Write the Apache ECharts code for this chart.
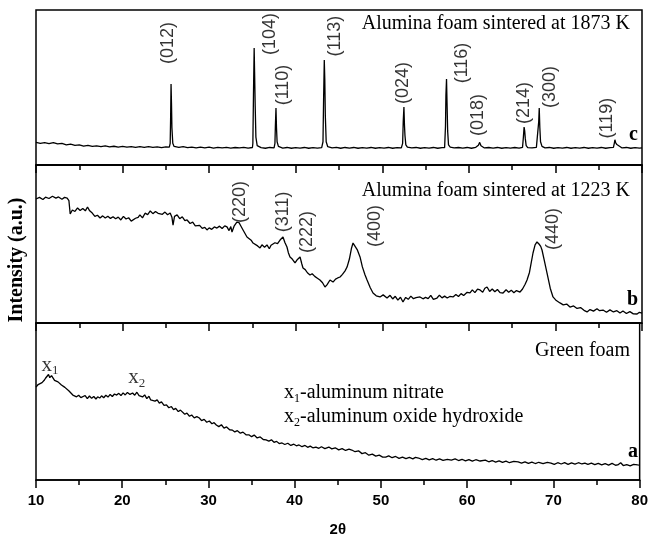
<!DOCTYPE html>
<html>
<head>
<meta charset="utf-8">
<title>XRD alumina foam</title>
<script src="https://cdn.jsdelivr.net/npm/echarts@6/dist/echarts.min.js"></script>
<style>
  html, body { margin: 0; padding: 0; background: #fff; }
  #chart { width: 651px; height: 540px; }
</style>
</head>
<body>
<div id="chart"></div>
<script>
// 2θ range and ticks
const xMin = 10
const xMax = 80
const xStep = 10

// (c) alumina foam sintered at 1873 K  -> [2θ, intensity]
const curveC = [
  [10,14.6],[10.5,14.0],[11,14.4],[11.5,13.8],[12,14.5],[12.5,13.6],[13,13.9],[13.5,13.0],[14,13.4],[14.5,12.7],
  [15,13.0],[15.5,12.2],[16,12.6],[16.5,12.0],[17,12.4],[17.5,11.8],[18,12.3],[18.5,11.7],[19,12.1],[19.5,11.6],
  [20,12.0],[20.5,11.5],[21,11.9],[21.5,11.4],[22,11.9],[22.5,11.3],[23,11.8],[23.5,11.4],[24,11.7],[24.5,11.2],
  [25,11.7],[25.4,11.5],[25.5,14],[25.55,30],[25.6,52.3],[25.65,40],[25.7,24],[25.8,14],[25.95,12],[26.5,11.4],
  [27,11.8],[27.5,11.2],[28,11.6],[28.5,11.1],[29,11.5],[29.5,11.0],[30,11.5],[30.5,10.9],[31,11.4],[31.5,11.0],
  [32,11.4],[32.5,10.9],[33,11.3],[33.5,11.0],[34,11.4],[34.5,10.9],[35,11.3],[35.05,14],[35.12,45],[35.2,75.5],
  [35.25,60],[35.32,38],[35.4,18],[35.55,12.5],[36,11.2],[36.5,10.8],[37,11.3],[37.5,11.0],[37.6,14],[37.65,25],
  [37.72,36.8],[37.78,24],[37.85,15],[38,12],[38.5,10.9],[39,11.3],[39.5,10.8],[40,11.2],[40.5,10.9],[41,11.3],
  [41.5,10.8],[42,11.2],[42.5,10.9],[43,11.2],[43.15,15],[43.22,42],[43.3,67.7],[43.36,55],[43.42,32],[43.52,15],
  [43.7,11.8],[44.2,11.0],[44.7,11.4],[45.2,10.8],[45.7,11.3],[46.2,10.9],[46.7,11.3],[47.2,10.8],[47.7,11.2],[48.2,10.9],
  [48.7,11.3],[49.2,10.8],[49.7,11.2],[50.2,10.9],[50.7,11.3],[51.2,10.8],[51.7,11.2],[52.2,11.0],[52.35,14],[52.42,28],
  [52.5,37.4],[52.56,26],[52.62,19],[52.72,13],[52.9,11.5],[53.4,11.0],[53.9,11.3],[54.4,10.8],[54.9,11.2],[55.4,10.9],
  [55.9,11.3],[56.4,10.8],[56.9,11.2],[57.2,11.2],[57.3,25],[57.35,45],[57.42,55.5],[57.48,40],[57.55,22],[57.65,13],
  [57.85,11.5],[58.3,11.0],[58.8,11.3],[59.3,10.9],[59.8,11.3],[60.3,10.8],[60.8,11.4],[61.1,12.8],[61.25,14.6],[61.4,12.4],
  [61.8,11.0],[62.3,11.3],[62.8,10.9],[63.3,11.3],[63.8,10.8],[64.3,11.2],[64.8,10.9],[65.3,11.3],[65.8,10.9],[66.2,11.4],
  [66.3,18],[66.38,24.5],[66.45,22],[66.52,17],[66.62,12.5],[66.8,11.2],[67.3,11.0],[67.8,11.4],[68.0,12],[68.07,28],
  [68.13,36.8],[68.2,24],[68.28,15],[68.45,12],[68.8,11.0],[69.3,11.3],[69.8,10.8],[70.3,11.2],[70.8,10.9],[71.3,11.3],
  [71.8,10.8],[72.3,11.2],[72.8,10.9],[73.3,11.3],[73.8,10.8],[74.3,11.2],[74.8,10.9],[75.3,11.3],[75.8,10.8],[76.3,11.2],
  [76.7,11.4],[76.8,14],[76.87,16.3],[76.95,14.5],[77.1,13.2],[77.3,12],[77.7,11.0],[78.2,11.3],[78.7,10.8],[79.2,11.2],
  [79.7,10.9],[80,11.1]
]
const peakNamesC = ['(012)', '(104)', '(110)', '(113)', '(024)', '(116)', '(018)', '(214)', '(300)', '(119)']
const peakLabelPosC = [
  [25.25,78.7],[37.03,84.5],[38.53,51.6],[44.54,83.2],[52.39,52.9],
  [59.21,65.8],[61.06,32.3],[66.37,40.0],[69.37,50.3],[75.96,30.3]
]

// (b) alumina foam sintered at 1223 K
const curveB = [
  [10,78.5],[10.4,79.5],[10.8,78.2],[11.1,79.6],[11.5,78.8],[11.9,80.2],[12.3,79.0],[12.6,79.8],[13.0,78.3],[13.3,79.5],
  [13.6,79.0],[13.8,77.5],[13.95,69.0],[14.2,71.5],[14.5,70.6],[14.8,72.8],[15.1,71.2],[15.4,72.5],[15.7,71.0],[15.95,73.4],
  [16.2,71.0],[16.5,69.6],[16.8,67.5],[17.1,68.2],[17.4,66.5],[17.7,67.8],[18.0,66.4],[18.3,67.6],[18.6,66.2],[18.9,67.3],
  [19.2,66.0],[19.5,67.0],[19.8,65.2],[20.1,67.5],[20.4,65.8],[20.7,66.6],[21.0,64.5],[21.2,63.9],[21.5,66.3],[21.8,66.9],
  [22.0,68.4],[22.3,66.5],[22.6,69.5],[22.9,68.6],[23.2,70.9],[23.5,69.2],[23.8,70.6],[24.1,69.4],[24.3,70.3],[24.6,68.8],
  [24.9,70.2],[25.2,68.5],[25.5,69.6],[25.7,67.0],[25.83,62.0],[26.0,67.5],[26.3,68.4],[26.6,66.0],[26.9,67.2],[27.2,64.8],
  [27.45,65.2],[27.8,63.0],[28.1,63.8],[28.4,61.5],[28.6,60.8],[28.9,61.8],[29.2,59.9],[29.5,60.5],[29.75,58.9],[30.0,60.2],
  [30.3,59.3],[30.6,60.8],[30.9,60.1],[31.2,61.3],[31.5,59.8],[31.8,61.5],[32.06,60.8],[32.3,58.5],[32.5,61.0],[32.64,57.6],
  [32.9,61.5],[33.2,63.9],[33.45,63.5],[33.6,62.0],[33.9,59.0],[34.1,57.8],[34.37,54.4],[34.6,55.5],[34.85,52.4],[35.07,50.6],
  [35.3,51.8],[35.6,48.8],[35.88,47.5],[36.1,49.5],[36.4,48.0],[36.68,49.4],[36.95,47.0],[37.15,49.2],[37.38,48.1],[37.6,50.8],
  [37.9,50.2],[38.19,52.5],[38.53,54.4],[38.75,51.0],[38.99,48.1],[39.15,44.5],[39.34,41.8],[39.6,40.5],[39.92,38.0],[40.2,40.2],
  [40.5,41.8],[40.7,37.5],[40.84,34.8],[41.1,33.8],[41.35,31.8],[41.65,30.4],[41.9,31.2],[42.2,29.5],[42.46,28.5],[42.8,27.2],
  [43.1,25.5],[43.38,22.8],[43.61,24.1],[43.96,27.2],[44.31,25.9],[44.6,27.8],[44.85,28.5],[45.12,29.1],[45.4,30.8],[45.7,33.0],
  [45.93,35.4],[46.2,40.5],[46.45,47.5],[46.62,50.6],[46.85,49.5],[47.1,46.5],[47.43,41.8],[47.7,35.5],[48.0,30.5],[48.24,27.2],
  [48.6,22.5],[48.93,19.0],[49.3,17.2],[49.74,16.5],[50.1,17.8],[50.55,15.8],[50.9,17.5],[51.2,15.2],[51.5,16.9],[51.8,14.5],
  [52.1,16.3],[52.39,13.3],[52.7,16.2],[53.0,15.0],[53.3,17.0],[53.6,15.4],[53.9,16.0],[54.36,16.5],[54.7,15.3],[55.0,16.2],
  [55.3,15.4],[55.6,17.5],[55.9,15.0],[56.32,15.8],[56.6,17.6],[56.9,15.9],[57.2,17.0],[57.5,15.8],[57.8,16.8],[58.17,16.5],
  [58.5,18.0],[58.8,16.8],[59.1,18.6],[59.4,17.4],[59.8,19.4],[60.13,19.0],[60.4,21.0],[60.7,19.2],[61.0,21.5],[61.29,20.9],
  [61.6,19.5],[61.85,22.0],[62.1,22.8],[62.4,20.0],[62.7,21.5],[63.0,19.8],[63.3,21.2],[63.6,19.2],[63.95,19.0],[64.3,21.0],
  [64.6,19.5],[64.9,20.8],[65.2,19.2],[65.5,20.5],[65.91,19.6],[66.2,21.5],[66.5,24.5],[66.72,27.2],[67.0,32.0],[67.2,38.0],
  [67.41,44.3],[67.65,49.5],[67.87,51.3],[68.1,50.0],[68.3,48.5],[68.45,46.2],[68.7,40.0],[69.03,31.6],[69.4,22.0],[69.72,16.5],
  [70.1,14.2],[70.53,12.7],[70.9,11.5],[71.3,12.0],[71.68,10.1],[72.1,10.8],[72.5,9.2],[72.9,9.8],[73.3,8.0],[73.65,7.0],
  [74.0,8.5],[74.4,7.5],[74.8,9.0],[75.1,7.8],[75.5,8.2],[75.9,6.8],[76.3,8.3],[76.7,7.0],[77.1,7.8],[77.46,6.3],
  [77.8,7.6],[78.2,6.0],[78.6,7.2],[79.0,5.8],[79.43,5.7],[79.7,6.8],[80,6.3]
]
const peakNamesB = ['(220)', '(311)', '(222)', '(400)', '(440)']
const peakLabelPosB = [[33.57,76.6],[38.53,70.3],[41.3,57.6],[49.16,61.4],[69.72,59.5]]

// (a) green foam
const curveA = [
  [10,59.2],[10.25,60.8],[10.46,60.5],[10.7,62.0],[10.95,63.5],[11.1,64.8],[11.27,65.0],[11.45,67.2],[11.6,65.2],[11.8,66.5],
  [11.96,65.6],[12.15,63.5],[12.35,64.2],[12.55,62.5],[12.77,62.4],[12.95,60.5],[13.15,61.2],[13.35,59.0],[13.58,59.2],[13.8,56.8],
  [14.0,57.5],[14.27,54.1],[14.5,55.2],[14.7,53.0],[14.95,54.0],[15.2,52.5],[15.43,52.2],[15.7,53.8],[15.95,51.8],[16.2,53.5],
  [16.45,52.0],[16.7,53.2],[16.95,51.6],[17.15,53.0],[17.39,52.2],[17.6,53.6],[17.85,52.4],[18.1,54.0],[18.35,52.8],[18.6,54.5],
  [18.85,53.2],[19.1,54.8],[19.36,54.1],[19.6,55.2],[19.85,53.8],[20.1,55.5],[20.35,54.2],[20.6,55.8],[20.9,54.5],[21.2,55.4],
  [21.45,54.0],[21.7,55.9],[21.95,53.8],[22.15,54.6],[22.36,52.9],[22.6,54.2],[22.85,51.8],[23.1,53.4],[23.3,51.0],[23.52,52.2],
  [23.8,50.2],[24.05,51.0],[24.3,49.0],[24.55,49.8],[24.85,47.5],[25.13,47.8],[25.4,46.0],[25.7,46.8],[25.95,44.8],[26.2,45.6],
  [26.5,43.6],[26.75,44.5],[26.98,43.3],[27.25,41.9],[27.5,42.6],[27.8,40.6],[28.05,41.4],[28.35,39.6],[28.65,40.4],[28.94,39.5],
  [29.2,37.8],[29.5,38.6],[29.8,36.8],[30.1,37.6],[30.4,35.8],[30.65,36.5],[30.91,35.0],[31.2,34.0],[31.5,35.2],[31.8,33.0],
  [32.1,33.8],[32.45,32.0],[32.76,31.8],[33.05,30.6],[33.35,31.4],[33.7,29.8],[34.0,30.5],[34.35,28.8],[34.72,28.7],[35.0,27.6],
  [35.3,28.6],[35.65,26.8],[36.0,27.4],[36.35,25.8],[36.68,25.5],[37.0,24.8],[37.3,25.6],[37.6,24.0],[37.9,24.6],[38.2,23.2],
  [38.53,23.6],[38.85,22.6],[39.2,23.4],[39.55,22.0],[39.9,22.8],[40.2,21.8],[40.5,22.3],[40.85,21.2],[41.2,22.0],[41.5,20.8],
  [41.8,21.6],[42.1,20.5],[42.46,21.0],[42.8,20.2],[43.1,21.2],[43.5,20.0],[43.96,21.0],[44.3,19.8],[44.7,20.5],[45.1,19.2],
  [45.5,20.0],[45.9,18.8],[46.3,19.6],[46.62,19.1],[47.0,18.0],[47.4,18.6],[47.8,16.8],[48.2,17.4],[48.6,15.8],[49.0,16.5],
  [49.4,15.2],[49.8,15.8],[50.2,14.6],[50.55,14.6],[50.9,15.4],[51.3,14.2],[51.7,15.0],[52.1,13.8],[52.5,14.6],[52.9,13.6],
  [53.3,14.4],[53.7,13.5],[54.0,14.4],[54.36,14.0],[54.8,13.0],[55.2,13.8],[55.6,12.8],[56.0,13.6],[56.4,12.6],[56.8,13.4],
  [57.2,12.5],[57.7,13.2],[58.17,12.7],[58.6,13.5],[59.0,12.4],[59.4,13.2],[59.8,12.2],[60.2,13.0],[60.6,12.0],[61.0,12.9],
  [61.5,12.1],[62.1,12.7],[62.5,11.6],[62.9,12.4],[63.3,11.4],[63.7,12.2],[64.1,11.2],[64.5,12.0],[64.9,11.0],[65.4,11.8],
  [65.91,11.5],[66.3,10.8],[66.7,11.6],[67.1,10.6],[67.5,11.4],[67.9,10.5],[68.3,11.3],[68.8,10.4],[69.3,11.2],[69.72,10.8],
  [70.1,10.0],[70.5,11.0],[70.9,10.2],[71.3,11.1],[71.7,10.0],[72.1,10.9],[72.5,10.1],[72.9,11.0],[73.3,10.2],[73.65,10.8],
  [74.0,10.0],[74.4,10.8],[74.8,9.8],[75.2,10.6],[75.6,9.6],[76.0,10.4],[76.4,9.5],[76.8,10.6],[77.2,9.4],[77.46,9.6],
  [77.8,11.0],[78.1,9.2],[78.5,9.8],[78.9,9.0],[79.3,9.9],[79.77,9.6],[80,9.5]
]
const peakNamesA = ['{m|x}{s|1}', '{m|x}{s|2}']
const peakLabelPosA = [[11.62,73.2],[21.67,65.0]]

const panelTitles = ['Alumina foam sintered at 1873 K', 'Alumina foam sintered at 1223 K', 'Green foam']
const panelLetters = ['c', 'b', 'a']

const grids = [
  { left: 36, right: 9, top: 10, height: 155 },
  { left: 36, right: 9, top: 165, height: 158 },
  { left: 36, right: 9, top: 323, height: 157 }
]

const serif = 'Liberation Serif'
const sans = 'Liberation Sans'
const black = '#000'

function makeXAxis (i, last) {
  return {
    type: 'value',
    gridIndex: i,
    min: xMin,
    max: xMax,
    interval: xStep,
    axisLine: { show: true, lineStyle: { color: black, width: 1.5 } },
    axisTick: { show: true, inside: false, length: 8, lineStyle: { color: black, width: 1.5 } },
    minorTick: { show: true, splitNumber: 2, length: 5, lineStyle: { color: black, width: 1.5 } },
    splitLine: { show: false },
    axisLabel: {
      show: last,
      margin: 13,
      color: black,
      fontFamily: sans,
      fontWeight: 'bold',
      fontSize: 15
    },
    name: last ? '2θ' : '',
    nameLocation: 'middle',
    nameGap: 42,
    nameTextStyle: { color: black, fontFamily: sans, fontWeight: 'bold', fontSize: 15 }
  }
}

function makeYAxis (i) {
  return { type: 'value', gridIndex: i, min: 0, max: 100, show: false }
}

function lineSeries (i, data) {
  return {
    type: 'line',
    xAxisIndex: i,
    yAxisIndex: i,
    data: data,
    showSymbol: false,
    symbol: 'none',
    lineStyle: { color: black, width: 1.3 },
    silent: true
  }
}

function labelSeries (i, names, pos, fontSize, rotate) {
  return {
    type: 'scatter',
    xAxisIndex: i,
    yAxisIndex: i,
    symbolSize: 0,
    silent: true,
    data: names.map((n, k) => ({ name: n, value: pos[k] })),
    label: {
      show: true,
      position: 'inside',
      formatter: '{b}',
      rotate: rotate,
      color: black,
      fontFamily: sans,
      fontSize: fontSize,
      rich: {
        m: { fontFamily: serif, fontSize: 21, color: black, lineHeight: 24, verticalAlign: 'middle' },
        s: { fontFamily: serif, fontSize: 13, color: black, lineHeight: 13, verticalAlign: 'bottom' }
      }
    }
  }
}

const titleY = [25, 192, 352]
const letterY = [135, 300, 452]

let graphics = []
panelTitles.forEach((t, i) => {
  graphics.push({
    type: 'text', right: 21, top: titleY[i] - 11,
    style: { text: t, fill: black, font: '20px "Liberation Serif"' }
  })
  graphics.push({
    type: 'text', x: 638, y: letterY[i],
    style: { text: panelLetters[i], fill: black, font: 'bold 20px "Liberation Serif"', align: 'right', verticalAlign: 'middle' }
  })
})
const legendRich = {
  m: { fontFamily: serif, fontSize: 20, fill: black, lineHeight: 24, verticalAlign: 'middle' },
  s: { fontFamily: serif, fontSize: 12, fill: black, lineHeight: 12, verticalAlign: 'bottom' }
}
graphics.push({
  type: 'text', x: 284, y: 393,
  style: { text: '{m|x}{s|1}{m|-aluminum nitrate}', rich: legendRich, verticalAlign: 'middle' }
})
graphics.push({
  type: 'text', x: 284, y: 417,
  style: { text: '{m|x}{s|2}{m|-aluminum oxide hydroxide}', rich: legendRich, verticalAlign: 'middle' }
})
graphics.push({
  type: 'text', x: 17, y: 260, rotation: Math.PI / 2,
  style: { text: 'Intensity (a.u.)', fill: black, font: 'bold 20px "Liberation Serif"', align: 'center', verticalAlign: 'middle' }
})

const chart = echarts.init(document.getElementById('chart'), null, { renderer: 'canvas' })
chart.setOption({
  animation: false,
  backgroundColor: '#fff',
  grid: grids.map(g => Object.assign({ show: true, borderColor: black, borderWidth: 1.5, backgroundColor: 'transparent' }, g)),
  xAxis: [makeXAxis(0, false), makeXAxis(1, false), makeXAxis(2, true)],
  yAxis: [makeYAxis(0), makeYAxis(1), makeYAxis(2)],
  series: [
    lineSeries(0, curveC),
    lineSeries(1, curveB),
    lineSeries(2, curveA),
    labelSeries(0, peakNamesC, peakLabelPosC, 18, 90),
    labelSeries(1, peakNamesB, peakLabelPosB, 18, 90),
    labelSeries(2, peakNamesA, peakLabelPosA, 18, 0)
  ],
  graphic: graphics
})
</script>
</body>
</html>
